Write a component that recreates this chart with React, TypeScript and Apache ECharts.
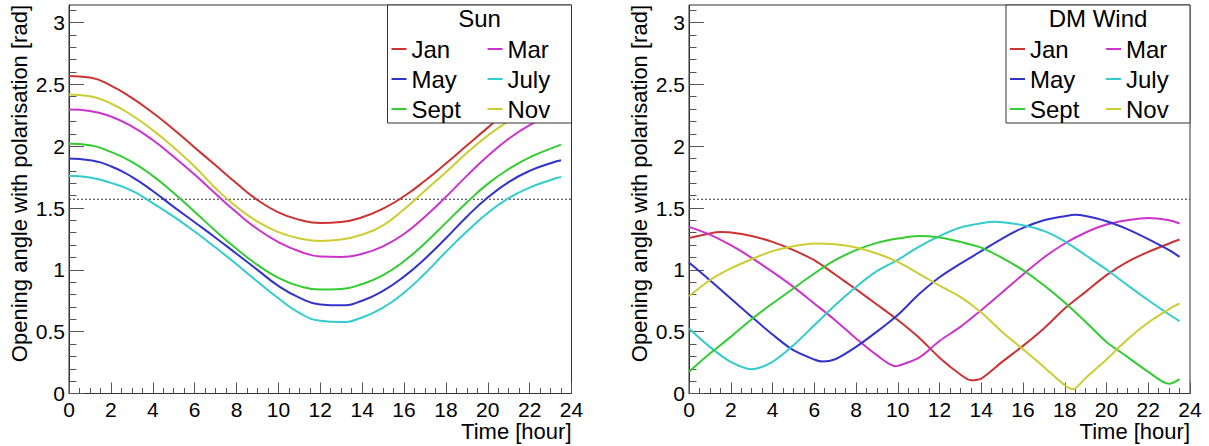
import React, { useEffect, useRef } from "react";
import * as echarts from "echarts";

const FONT = "'Liberation Sans', Arial, Helvetica, sans-serif";

const months = ["Jan", "Mar", "May", "July", "Sept", "Nov"];
const colors = ["#cc3333", "#cc33cc", "#3333cc", "#33cccc", "#33cc33", "#cccc33"];

// Sun panel: hourly samples
const sunHours = [0, 1, 2, 3, 4, 5, 6, 7, 8, 9, 10, 11, 12, 13, 14, 15, 16, 17, 18, 19, 20, 21, 22, 23, 23.5];
const sunJan = [2.568, 2.555, 2.49, 2.39, 2.27, 2.135, 1.99, 1.845, 1.7, 1.565, 1.465, 1.405, 1.378, 1.387, 1.425, 1.495, 1.595, 1.72, 1.86, 2.005, 2.15, 2.29, 2.41, 2.5, 2.535];
const sunMar = [2.296, 2.285, 2.24, 2.16, 2.05, 1.915, 1.77, 1.615, 1.465, 1.33, 1.225, 1.15, 1.108, 1.104, 1.13, 1.19, 1.29, 1.43, 1.59, 1.76, 1.92, 2.06, 2.17, 2.25, 2.28];
const sunMay = [1.9, 1.886, 1.838, 1.752, 1.638, 1.509, 1.385, 1.26, 1.13, 1.0, 0.87, 0.775, 0.72, 0.713, 0.75, 0.83, 0.945, 1.09, 1.255, 1.43, 1.585, 1.71, 1.8, 1.862, 1.886];
const sunJuly = [1.76, 1.746, 1.703, 1.64, 1.54, 1.43, 1.31, 1.18, 1.045, 0.905, 0.77, 0.652, 0.588, 0.578, 0.615, 0.695, 0.815, 0.97, 1.145, 1.31, 1.46, 1.58, 1.665, 1.727, 1.75];
const sunSept = [2.02, 2.008, 1.954, 1.873, 1.76, 1.622, 1.47, 1.315, 1.17, 1.04, 0.935, 0.868, 0.84, 0.845, 0.885, 0.958, 1.07, 1.215, 1.38, 1.545, 1.695, 1.815, 1.91, 1.98, 2.013];
const sunNov = [2.418, 2.404, 2.345, 2.25, 2.13, 1.99, 1.835, 1.66, 1.51, 1.39, 1.305, 1.255, 1.234, 1.245, 1.285, 1.36, 1.49, 1.64, 1.79, 1.945, 2.085, 2.205, 2.305, 2.375, 2.4];
const sunSeries = [sunJan, sunMar, sunMay, sunJuly, sunSept, sunNov];

// DM Wind panel: [hour, angle] samples
const dmJan = [[0, 1.258], [1, 1.294], [1.5, 1.305], [2, 1.302], [3, 1.274], [4, 1.226], [5, 1.159], [6, 1.078], [7, 0.962], [8, 0.843], [9, 0.72], [10, 0.595], [11, 0.455], [12, 0.29], [13, 0.154], [13.5, 0.108], [14, 0.121], [15, 0.256], [16, 0.385], [17, 0.526], [18, 0.687], [19, 0.822], [20, 0.957], [21, 1.064], [22, 1.145], [23, 1.213], [23.5, 1.245]];
const dmMar = [[0, 1.347], [1, 1.285], [2, 1.199], [3, 1.097], [4, 0.983], [5, 0.862], [6, 0.728], [7, 0.593], [8, 0.445], [9, 0.31], [9.9, 0.22], [10, 0.223], [11, 0.288], [12, 0.425], [13, 0.539], [14, 0.674], [15, 0.817], [16, 0.962], [17, 1.1], [18, 1.213], [19, 1.302], [20, 1.367], [21, 1.401], [22, 1.42], [23, 1.401], [23.5, 1.375]];
const dmMay = [[0, 1.059], [1, 0.916], [2, 0.768], [3, 0.62], [4, 0.477], [5, 0.35], [6, 0.275], [6.4, 0.258], [7, 0.277], [8, 0.377], [9, 0.5], [10, 0.635], [11, 0.8], [12, 0.94], [13, 1.05], [14, 1.151], [15, 1.253], [16, 1.339], [17, 1.401], [18, 1.434], [18.5, 1.445], [19, 1.435], [20, 1.393], [21, 1.329], [22, 1.248], [23, 1.159], [23.5, 1.105]];
const dmJuly = [[0, 0.526], [1, 0.377], [2, 0.256], [3, 0.197], [4, 0.256], [5, 0.39], [6, 0.552], [7, 0.714], [8, 0.862], [9, 0.989], [10, 1.08], [11, 1.186], [12, 1.273], [13, 1.342], [14, 1.377], [14.7, 1.388], [15, 1.385], [16, 1.361], [17, 1.315], [18, 1.231], [19, 1.118], [20, 1.003], [21, 0.876], [22, 0.754], [23, 0.639], [23.5, 0.585]];
const dmSept = [[0, 0.175], [1, 0.323], [2, 0.458], [3, 0.601], [4, 0.728], [5, 0.849], [6, 0.97], [7, 1.078], [8, 1.159], [9, 1.218], [10, 1.253], [11, 1.274], [12, 1.262], [13, 1.226], [14, 1.18], [15, 1.097], [16, 0.997], [17, 0.876], [18, 0.736], [19, 0.579], [20, 0.417], [21, 0.296], [22, 0.175], [23, 0.078], [23.5, 0.116]];
const dmNov = [[0, 0.787], [1, 0.916], [2, 1.011], [3, 1.086], [4, 1.151], [5, 1.191], [6, 1.213], [7, 1.207], [8, 1.18], [9, 1.132], [10, 1.064], [11, 0.97], [12, 0.872], [13, 0.781], [14, 0.655], [15, 0.498], [16, 0.358], [17, 0.215], [18, 0.067], [18.4, 0.035], [19, 0.126], [20, 0.275], [21, 0.437], [22, 0.574], [23, 0.682], [23.5, 0.728]];
const dmSeries = [dmJan, dmMar, dmMay, dmJuly, dmSept, dmNov];

const yMajorTicks = [0, 0.5, 1, 1.5, 2, 2.5, 3];
const yMinorTicks = Array.from({ length: 32 }, (_, i) => Math.round(i * 100) / 1000);
const xMax = 24;
const yMax = Math.PI;
const halfPi = Math.PI / 2;

const panelTitles = ["Sun", "DM Wind"];
const yTitle = "Opening angle with polarisation [rad]";
const xTitle = "Time [hour]";

const FRAME = "#333";
const TICK = "#555";

const grids = [
  { left: 69, top: 5, width: 502.5, height: 388.5 },
  { left: 689, top: 5, width: 501, height: 388.5 },
];

function xAxisFor(gi: number) {
  return {
    type: "value",
    gridIndex: gi,
    min: 0,
    max: xMax,
    interval: 2,
    axisLine: { show: true, onZero: false, lineStyle: { color: FRAME, width: 1 } },
    axisTick: { show: true, inside: true, length: 11, lineStyle: { color: TICK, width: 1 } },
    minorTick: { show: true, splitNumber: 4, length: 5.5, lineStyle: { color: TICK, width: 1 } },
    axisLabel: { show: true, margin: 5, fontSize: 21, color: "#000", fontFamily: FONT },
    splitLine: { show: false },
    minorSplitLine: { show: false },
  };
}

function yAxesFor(gi: number) {
  return [
    {
      type: "value",
      gridIndex: gi,
      min: 0,
      max: yMax,
      position: "left",
      axisLine: { show: true, onZero: false, lineStyle: { color: FRAME, width: 1 } },
      axisTick: { show: true, inside: true, length: 15, customValues: yMajorTicks, lineStyle: { color: TICK, width: 1 } },
      axisLabel: { show: true, customValues: yMajorTicks, margin: 4, fontSize: 21, color: "#000", fontFamily: FONT },
      splitLine: { show: false },
    },
    {
      type: "value",
      gridIndex: gi,
      min: 0,
      max: yMax,
      position: "left",
      axisLine: { show: false },
      axisTick: { show: true, inside: true, length: 7.5, customValues: yMinorTicks, lineStyle: { color: TICK, width: 1 } },
      axisLabel: { show: false },
      splitLine: { show: false },
    },
  ];
}

function legendCol(left: number, names: string[]) {
  return {
    left,
    top: 37,
    orient: "vertical",
    data: names,
    icon: "rect",
    itemWidth: 15,
    itemHeight: 2,
    itemGap: 6,
    padding: 0,
    selectedMode: false,
    z: 20,
    textStyle: { fontSize: 24, fontFamily: FONT, color: "#000", lineHeight: 23 },
  };
}

export default function App() {
  const ref = useRef<HTMLDivElement>(null);

  useEffect(() => {
    document.body.style.margin = "0";
    if (!ref.current) return;
    const chart = echarts.init(ref.current, null, { renderer: "svg" });

    const series: any[] = [];
    [0, 1].forEach((gi) => {
      series.push({
        type: "line",
        name: "pi/2",
        xAxisIndex: gi,
        yAxisIndex: gi * 2,
        data: [[0, halfPi], [xMax, halfPi]],
        symbol: "none",
        silent: true,
        lineStyle: { color: "#333", width: 1, type: [2, 2] },
        z: 2,
      });
    });
    months.forEach((m, i) => {
      series.push({
        type: "line",
        name: m,
        xAxisIndex: 0,
        yAxisIndex: 0,
        data: sunHours.map((h, k) => [h, sunSeries[i][k]]),
        symbol: "none",
        showSymbol: false,
        smooth: 0.5,
        lineStyle: { color: colors[i], width: 2 },
        itemStyle: { color: colors[i] },
        z: 3,
      });
    });
    months.forEach((m, i) => {
      series.push({
        type: "line",
        name: m,
        xAxisIndex: 1,
        yAxisIndex: 2,
        data: dmSeries[i],
        symbol: "none",
        showSymbol: false,
        smooth: 0.3,
        lineStyle: { color: colors[i], width: 2 },
        itemStyle: { color: colors[i] },
        z: 3,
      });
    });

    const boxLefts = [387.5, 1006];
    const boxW = 184;
    const frameRights = [571.5, 1190];
    const yTitleX = [19, 639.5];

    const graphic: any[] = [];
    [0, 1].forEach((gi) => {
      graphic.push({
        type: "rect",
        z: 10,
        shape: { x: boxLefts[gi], y: 5, width: boxW, height: 118 },
        style: { fill: "#fff", stroke: FRAME, lineWidth: 1 },
      });
      graphic.push({
        type: "text",
        z: 11,
        x: boxLefts[gi] + boxW / 2,
        y: 18,
        style: { text: panelTitles[gi], fontSize: 24, fontFamily: FONT, fill: "#000", align: "center", verticalAlign: "middle", textAlign: "center", textVerticalAlign: "middle" },
      });
      graphic.push({
        type: "text",
        z: 11,
        x: yTitleX[gi],
        y: 5,
        rotation: Math.PI / 2,
        style: { text: yTitle, fontSize: 22, fontFamily: FONT, fill: "#000", align: "right", verticalAlign: "middle", textAlign: "right", textVerticalAlign: "middle" },
      });
      graphic.push({
        type: "text",
        z: 11,
        x: frameRights[gi],
        y: 431,
        style: { text: xTitle, fontSize: 22, fontFamily: FONT, fill: "#000", align: "right", verticalAlign: "middle", textAlign: "right", textVerticalAlign: "middle" },
      });
    });

    chart.setOption({
      animation: false,
      backgroundColor: "#fff",
      grid: grids.map((g) => ({ ...g, show: true, borderColor: FRAME, borderWidth: 1, backgroundColor: "transparent", containLabel: false })),
      xAxis: [xAxisFor(0), xAxisFor(1)],
      yAxis: [...yAxesFor(0), ...yAxesFor(1)],
      legend: [
        legendCol(boxLefts[0] + 4, ["Jan", "May", "Sept"]),
        legendCol(boxLefts[0] + 100, ["Mar", "July", "Nov"]),
        legendCol(boxLefts[1] + 4, ["Jan", "May", "Sept"]),
        legendCol(boxLefts[1] + 100, ["Mar", "July", "Nov"]),
      ],
      graphic,
      series,
    });

    return () => chart.dispose();
  }, []);

  return <div ref={ref} style={{ width: 1209, height: 446 }} />;
}
